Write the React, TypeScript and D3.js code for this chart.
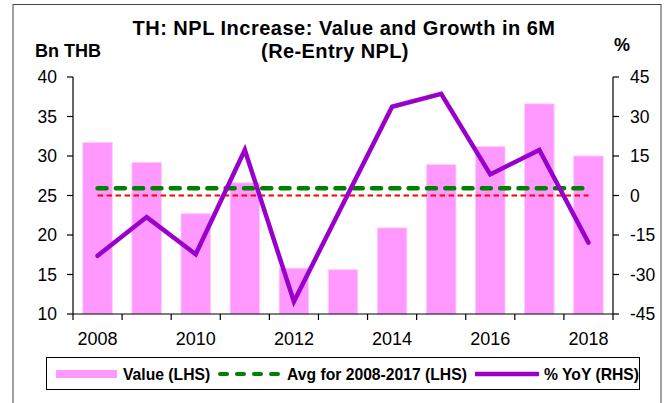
import React from 'react';
import * as d3 from 'd3';

const years = ['2008', '2009', '2010', '2011', '2012', '2013', '2014', '2015', '2016', '2017', '2018'];
const values = [31.7, 29.2, 22.7, 26.6, 15.8, 15.6, 20.9, 28.9, 31.2, 36.6, 30.0];
const yoy = [-22.9, -8.2, -22.3, 17.3, -40.3, -3.2, 33.7, 38.6, 8.0, 17.3, -17.9];
const avgYears = years.slice(0, 10);
const leftTicks = [10, 15, 20, 25, 30, 35, 40];
const rightTicks = [-45, -30, -15, 0, 15, 30, 45];
const xLabels = ['2008', '2010', '2012', '2014', '2016', '2018'];

const W = 672, H = 403;
const L = 73, R = 613, T = 77, B = 314;
const FONT = '"Liberation Sans", Arial, sans-serif';

export default function App() {
  const x = d3.scaleBand<string>().domain(years).range([L, R]).paddingInner(0.4).paddingOuter(0.2);
  const yL = d3.scaleLinear().domain([10, 40]).range([B, T]);
  const yR = d3.scaleLinear().domain([-45, 45]).range([B, T]);
  const cx = (y: string) => (x(y) ?? 0) + x.bandwidth() / 2;
  const avg = d3.mean(values.slice(0, avgYears.length)) ?? 0;
  const line = d3.line<number>().x((_, i) => cx(years[i])).y((d) => yR(d));
  const step = x.step();
  const boundaries = d3.range(years.length + 1).map((i) => L + i * step);
  const x0 = cx(years[0]);
  const x1 = cx(years[years.length - 1]);
  const LY = 374;

  return (
    <svg width={W} height={H} style={{ position: 'fixed', left: 0, top: 0, background: '#fff' }} fontFamily={FONT}>
      <rect x={13} y={4.5} width={648} height={420} fill="none" stroke="#444" strokeWidth={1} />
      <text x={344} y={35} textAnchor="middle" fontSize={20} fontWeight="bold" letterSpacing={0.5}>TH: NPL Increase: Value and Growth in 6M</text>
      <text x={335} y={57.5} textAnchor="middle" fontSize={20} fontWeight="bold" letterSpacing={0.4}>(Re-Entry NPL)</text>
      <text x={35} y={57} fontSize={18} fontWeight="bold">Bn THB</text>
      <text x={614} y={51} fontSize={18} fontWeight="bold">%</text>

      {values.map((v, i) => (
        <rect key={years[i]} x={x(years[i])} y={yL(v)} width={x.bandwidth()} height={B - yL(v)} fill="#FF99FF" stroke="#FFC8FF" strokeWidth={0.8} />
      ))}

      <line x1={x0} x2={x1} y1={yR(0)} y2={yR(0)} stroke="#FF0000" strokeWidth={2} strokeDasharray="5.5,3.5" />
      <line x1={x0} x2={x1} y1={yL(avg)} y2={yL(avg)} stroke="#008000" strokeWidth={4.5} strokeDasharray="9,9.3" strokeLinecap="round" />
      <path d={line(yoy) ?? ''} fill="none" stroke="#9900CC" strokeWidth={4.5} strokeLinejoin="miter" strokeLinecap="round" />

      <line x1={L} x2={L} y1={T} y2={B} stroke="#000" strokeWidth={1.2} />
      {leftTicks.map((t) => (
        <g key={'l' + t}>
          <line x1={L - 6} x2={L} y1={yL(t)} y2={yL(t)} stroke="#000" strokeWidth={1.2} />
          <text x={57} y={yL(t)} dy="0.36em" textAnchor="end" fontSize={17.5}>{t}</text>
        </g>
      ))}
      <line x1={R} x2={R} y1={T} y2={B} stroke="#000" strokeWidth={1.2} />
      {rightTicks.map((t) => (
        <g key={'r' + t}>
          <line x1={R} x2={R + 6} y1={yR(t)} y2={yR(t)} stroke="#000" strokeWidth={1.2} />
          <text x={630} y={yR(t)} dy="0.36em" textAnchor="start" fontSize={17.5}>{t}</text>
        </g>
      ))}
      <line x1={L} x2={R} y1={B} y2={B} stroke="#000" strokeWidth={1.2} />
      {boundaries.map((b, i) => (
        <line key={'b' + i} x1={b} x2={b} y1={B} y2={B + 6} stroke="#000" strokeWidth={1.2} />
      ))}
      {xLabels.map((lab) => (
        <text key={lab} x={cx(lab)} y={345} textAnchor="middle" fontSize={18}>{lab}</text>
      ))}

      <rect x={46.5} y={357.5} width={593} height={32} fill="#fff" stroke="#000" strokeWidth={1} />
      <line x1={56} x2={117} y1={LY} y2={LY} stroke="#FF99FF" strokeWidth={8} />
      <text x={123} y={380} fontSize={15.7} fontWeight="bold">Value (LHS)</text>
      <line x1={220} x2={281} y1={LY} y2={LY} stroke="#008000" strokeWidth={4} strokeDasharray="7,10" strokeLinecap="round" />
      <text x={287} y={380} fontSize={15.7} fontWeight="bold">Avg for 2008-2017 (LHS)</text>
      <line x1={475} x2={539} y1={LY} y2={LY} stroke="#9900CC" strokeWidth={4.5} />
      <text x={544} y={380} fontSize={15.7} fontWeight="bold">% YoY (RHS)</text>
    </svg>
  );
}
